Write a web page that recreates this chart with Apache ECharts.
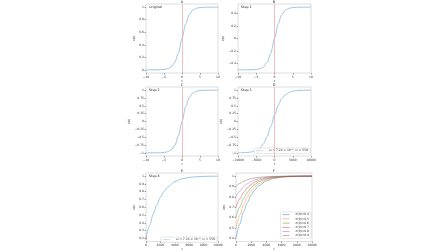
<!DOCTYPE html>
<html><head><meta charset="utf-8">
<script src="https://cdn.jsdelivr.net/npm/echarts@6/dist/echarts.min.js"></script>
<style>html,body{margin:0;padding:0;background:#fff}#c{width:448px;height:252px}</style>
</head><body><div id="c"></div>
<script>
// ---- data ----
const tA = [-10,-9,-8,-7,-6,-5,-4,-3,-2,-1,0,1,2,3,4,5,6,7,8,9,10];
const sigOriginal = [0.00005,0.0001,0.0003,0.0009,0.0025,0.0067,0.018,0.047,0.119,0.269,0.5,0.731,0.881,0.953,0.982,0.9933,0.9975,0.9991,0.9997,0.9999,0.99995];
const sigStep1 = [-0.49995,-0.4999,-0.4997,-0.4991,-0.4975,-0.4933,-0.482,-0.453,-0.381,-0.231,0,0.231,0.381,0.453,0.482,0.4933,0.4975,0.4991,0.4997,0.4999,0.49995];
const sigStep2 = [-0.9999,-0.9998,-0.9993,-0.9982,-0.9951,-0.9866,-0.964,-0.905,-0.762,-0.462,0,0.462,0.762,0.905,0.964,0.9866,0.9951,0.9982,0.9993,0.9998,0.9999];
const tD = [-10000,-9000,-8000,-7000,-6000,-5000,-4000,-3000,-2000,-1000,0,1000,2000,3000,4000,5000,6000,7000,8000,9000,10000];
const sigStep3 = [-0.9979,-0.9956,-0.9909,-0.9813,-0.9618,-0.9229,-0.8472,-0.7084,-0.479,-0.1583,0.1997,0.5113,0.7289,0.8587,0.929,0.9649,0.9828,0.9916,0.9959,0.998,0.999];
const tE = [0,500,1000,1500,2000,2500,3000,4000,5000,6000,7000,8000,9000,10000];
const sigStep4 = [0.2,0.366,0.511,0.632,0.729,0.803,0.859,0.929,0.965,0.983,0.992,0.996,0.998,0.999];
const sigF04 = [0.4,0.540,0.656,0.747,0.817,0.869,0.907,0.954,0.977,0.989,0.995,0.997,0.9987,0.9994];
const sigF05 = [0.5,0.623,0.722,0.798,0.855,0.897,0.927,0.964,0.982,0.991,0.996,0.998,0.999,0.9995];
const sigF06 = [0.6,0.703,0.784,0.844,0.889,0.921,0.945,0.973,0.987,0.9935,0.9969,0.9985,0.9993,0.9996];
const sigF07 = [0.7,0.781,0.842,0.888,0.920,0.944,0.961,0.981,0.991,0.995,0.998,0.9989,0.9995,0.9997];
const sigF08 = [0.8,0.857,0.898,0.928,0.949,0.964,0.975,0.988,0.994,0.997,0.9986,0.9993,0.9997,0.9998];
const sigF09 = [0.9,0.929,0.950,0.965,0.976,0.983,0.988,0.994,0.997,0.9986,0.9993,0.9997,0.9998,0.9999];
const fNames = ['σ(0)=0.4','σ(0)=0.5','σ(0)=0.6','σ(0)=0.7','σ(0)=0.8','σ(0)=0.9'];
const fSeries = [sigF04,sigF05,sigF06,sigF07,sigF08,sigF09];
const fitName = 'ω = 7.24 × 10⁻⁴, t₀ = 559';
const panelTitles = ['A','B','C','D','E','F'];
const stepLabels = ['Original','Step 1','Step 2','Step 3','Step 4'];
const ticksX10 = [-10,-5,0,5,10];
const ticksX10k = [-10000,-5000,0,5000,10000];
const ticksXpos = [0,2000,4000,6000,8000,10000];
const ticksYA = [0,0.2,0.4,0.6,0.8,1];
const ticksYB = [-0.4,-0.2,0,0.2,0.4];
const ticksYC = [-1,-0.75,-0.5,-0.25,0,0.25,0.5,0.75,1];
const ticksYE = [0.2,0.3,0.4,0.5,0.6,0.7,0.8,0.9,1];
const ticksYF = [0.4,0.5,0.6,0.7,0.8,0.9,1];

// ---- layout ----
const FONT = 'DejaVu Sans';
const FS = 3;
const grids = [
  {left:146, top:4, width:72, height:69},
  {left:238, top:4, width:73, height:69},
  {left:146, top:87, width:72, height:69},
  {left:238, top:87, width:73, height:69},
  {left:146, top:173, width:72, height:72},
  {left:236, top:173, width:76, height:72}
];
const xSpec = [
  [-10,10,ticksX10],[-10,10,ticksX10],[-10,10,ticksX10],
  [-10000,10000,ticksX10k],[0,10000,ticksXpos],[0,10000,ticksXpos]
];
const ySpec = [
  [-0.05,1.05,ticksYA,7.5],[-0.55,0.55,ticksYB,9.5],[-1.1,1.1,ticksYC,12],
  [-1.1,1.1,ticksYC,12],[0.16,1.04,ticksYE,7.5],[0.37,1.03,ticksYF,7.5]
];
const fmt = v => String(v).replace('-', '\u2212');
const lab = {fontSize:FS, color:'#333', fontFamily:FONT};

const xAxis = xSpec.map((s,i)=>({
  type:'value', gridIndex:i, min:s[0], max:s[1],
  axisLine:{show:false, onZero:false},
  axisTick:{show:true, length:1.5, customValues:s[2], lineStyle:{color:'#444', width:0.5}},
  axisLabel:Object.assign({customValues:s[2], margin:2.5, formatter:fmt, hideOverlap:false}, lab),
  splitLine:{show:false},
  name:'t', nameLocation:'middle', nameGap:6.5, nameTextStyle:lab
}));
const yAxis = ySpec.map((s,i)=>({
  type:'value', gridIndex:i, min:s[0], max:s[1],
  axisLine:{show:false, onZero:false},
  axisTick:{show:true, length:1.5, customValues:s[2], lineStyle:{color:'#444', width:0.5}},
  axisLabel:Object.assign({customValues:s[2], margin:2, formatter:fmt}, lab),
  splitLine:{show:false},
  name:'σ(t)', nameLocation:'middle', nameGap:s[3], nameTextStyle:lab
}));

const BLUE = '#86b8de';
function mkLine(name, idx, xs, ys, color, extra){
  return Object.assign({
    type:'line', name:name, xAxisIndex:idx, yAxisIndex:idx,
    data: xs.map((x,k)=>[x, ys[k]]),
    showSymbol:false, smooth:0.3, smoothMonotone:'x',
    lineStyle:{color:color, width:0.8}, itemStyle:{color:color},
    silent:true, animation:false
  }, extra||{});
}
const redLine = {silent:true, symbol:'none', label:{show:false},
  lineStyle:{color:'#f2a3a3', width:0.7, type:'solid'}, data:[{xAxis:0}], animation:false};

const series = [
  mkLine('orig',0,tA,sigOriginal,BLUE,{markLine:redLine}),
  mkLine('s1',1,tA,sigStep1,BLUE,{markLine:redLine}),
  mkLine('s2',2,tA,sigStep2,BLUE,{markLine:redLine}),
  mkLine(fitName,3,tD,sigStep3,BLUE,{markLine:redLine}),
  mkLine(fitName,4,tE,sigStep4,BLUE),
  {type:'scatter', xAxisIndex:4, yAxisIndex:4, data:[[tE[0], sigStep4[0]]], symbolSize:2.2,
   itemStyle:{color:'#e57373'}, silent:true, animation:false}
];
const fColors = ['#1f77b4','#ff7f0e','#2ca02c','#d62728','#9467bd','#8c564b'];
fSeries.forEach((ys,k)=>{
  series.push(mkLine(fNames[k],5,tE,ys,fColors[k],{lineStyle:{color:fColors[k],width:0.8,opacity:0.55}}));
});

const legBase = {orient:'vertical', icon:'rect', itemWidth:7, itemHeight:0.8, itemGap:1.2,
  padding:[1.2,2], borderColor:'#cfcfcf', borderWidth:0.5, borderRadius:1,
  backgroundColor:'rgba(255,255,255,0.85)', textStyle:{fontSize:FS, color:'#333', fontFamily:FONT, padding:[0,0,0,1]},
  selectedMode:false, itemStyle:{opacity:0.6}};
const legend = [
  Object.assign({data:[fitName], right:448-310, top:148}, legBase),
  Object.assign({data:[fitName], right:448-217, top:237}, legBase),
  Object.assign({data:fNames, right:448-311, top:212}, legBase)
];

const titlePos = [[182,2],[274,2],[182,85],[274,85],[182,171],[274,171]];
const stepPos = [[149,7],[241,7],[149,90],[241,90],[149,176]];
const graphic = [];
panelTitles.forEach((t,i)=>graphic.push({type:'text', x:titlePos[i][0], y:titlePos[i][1],
  style:{text:t, font:'3.5px "DejaVu Sans"', fill:'#222', textAlign:'center', textVerticalAlign:'middle'}, silent:true}));
stepLabels.forEach((t,i)=>graphic.push({type:'text', x:stepPos[i][0], y:stepPos[i][1],
  style:{text:t, font:'3.3px "DejaVu Sans"', fill:'#222', textAlign:'left', textVerticalAlign:'middle'}, silent:true}));

const chart = echarts.init(document.getElementById('c'), null, {renderer:'canvas'});
chart.setOption({
  animation:false,
  backgroundColor:'#fff',
  grid: grids.map(g=>Object.assign({show:true, borderColor:'#c8c8c8', borderWidth:0.6, backgroundColor:'transparent', containLabel:false}, g)),
  xAxis, yAxis, series, legend, graphic
});
</script>
</body></html>
